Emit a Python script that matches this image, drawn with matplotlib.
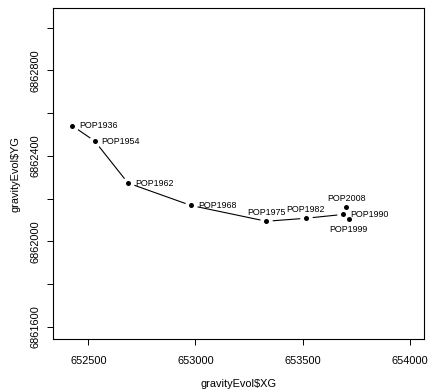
import matplotlib.pyplot as plt

# gravity centre evolution
labels = ['POP1936', 'POP1954', 'POP1962', 'POP1968', 'POP1975',
          'POP1982', 'POP1990', 'POP1999', 'POP2008']
xg = [652425, 652530, 652685, 652979, 653331, 653515, 653690, 653715, 653704]
yg = [6862541, 6862469, 6862273, 6862168, 6862094, 6862108, 6862126, 6862103, 6862159]
# label placement like R's text(pos=...): 1 below, 3 above, 4 right
label_pos = [4, 4, 4, 4, 3, 3, 4, 1, 3]

xticks = [652500, 653000, 653500, 654000]
yticks = [6861600, 6861800, 6862000, 6862200, 6862400, 6862600, 6862800, 6863000]
ytick_labels = ['6861600', '', '6862000', '', '6862400', '', '6862800', '']

plt.rcParams['font.family'] = ['Liberation Sans', 'DejaVu Sans']

fig = plt.figure(figsize=(4.36, 3.92), dpi=100)
ax = fig.add_axes([53 / 436, 1 - 339 / 392, 371 / 436, 331 / 392])

# type="b" look: line with gaps around the points
ax.plot(xg, yg, color='black', lw=0.8, zorder=1)
ax.plot(xg, yg, 'o', ms=9, color='white', mec='none', zorder=2)
ax.plot(xg, yg, 'o', ms=3.6, color='black', mec='none', zorder=3)

offsets = {4: ((5, 0), 'left', 'center'),
           3: ((0, 6.5), 'center', 'center'),
           1: ((0, -7), 'center', 'center')}
for x, y, lab, p in zip(xg, yg, labels, label_pos):
    off, ha, va = offsets[p]
    ax.annotate(lab, (x, y), xytext=off, textcoords='offset points',
                ha=ha, va=va, fontsize=6.4, zorder=4)

ax.set_xlim(652335, 654067)
ax.set_ylim(6861543, 6863092)
ax.set_xticks(xticks)
ax.set_xticklabels([str(t) for t in xticks])
ax.set_yticks(yticks)
ax.set_yticklabels(ytick_labels, rotation=90, va='center')
ax.tick_params(axis='x', length=4.3, width=0.7, labelsize=7.9, pad=8)
ax.tick_params(axis='y', length=4.3, width=0.7, labelsize=7.9, pad=5)
for s in ax.spines.values():
    s.set_linewidth(0.8)

ax.set_xlabel('gravityEvol$XG', fontsize=7.9, labelpad=9)
ax.set_ylabel('gravityEvol$YG', fontsize=7.9, labelpad=7)

fig.savefig('out.png', dpi=100)
